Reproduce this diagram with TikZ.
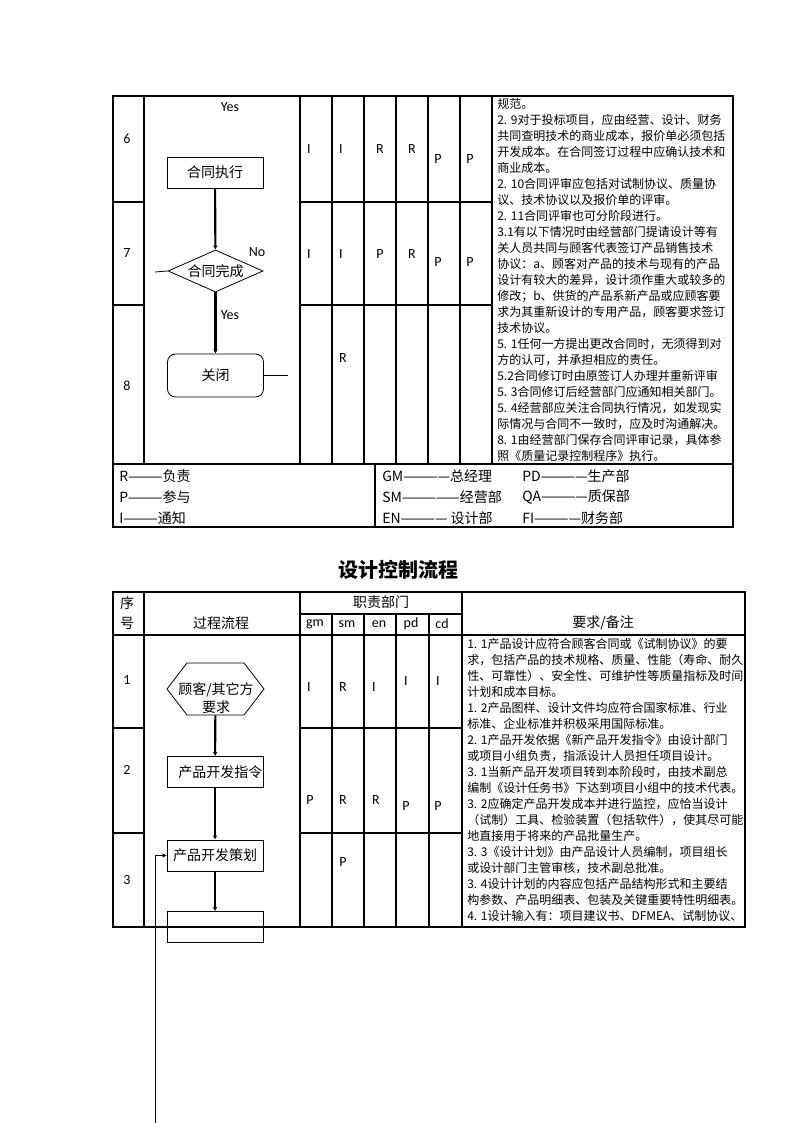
\documentclass[tikz,border=0pt]{standalone}
\usepackage{fontspec}
\setmainfont{Carlito}
\newfontfamily\cjk{Noto Sans CJK SC}
\usetikzlibrary{shapes.geometric,shapes.symbols,arrows.meta}
\tikzstyle{rule} = [line width=0.8pt]
\tikzstyle{flowbox} = [draw=black, line width=0.6pt, rectangle, minimum width=72pt,
    minimum height=23.25pt, inner sep=0pt, font=\cjk\fontsize{10.5pt}{12pt}\selectfont]
\tikzstyle{flowline} = [line width=1.6pt, -{Latex[length=3pt,width=3.5pt]}]
\tikzstyle{duty} = [font=\fontsize{10.5pt}{11pt}\selectfont, inner sep=0pt]
\tikzstyle{head} = [font=\cjk\fontsize{10.5pt}{12pt}\selectfont, inner sep=0pt]
\tikzstyle{notes} = [font=\cjk\fontsize{9pt}{12pt}\selectfont, align=left, anchor=north west, inner sep=0pt]
\tikzstyle{legend} = [font=\cjk\fontsize{10.5pt}{12pt}\selectfont, anchor=west, inner sep=0pt]

\begin{document}
\begin{tikzpicture}[x=0.75pt, y=-0.75pt]
\useasboundingbox (0,0) rectangle (794,1123);

% contract table (upper part)
\draw[rule] (113,96) rectangle (733,527);
\draw[rule] (113,464) -- (733,464);
\draw[rule] (144,96) -- (144,464);
\foreach \x in {300,332,364,396,428,460,492}
    \draw[rule] (\x,96) -- (\x,464);
\draw[rule] (375,464) -- (375,527);
\draw[rule] (113,202) -- (144,202) (300,202) -- (492,202);
\draw[rule] (113,305) -- (144,305) (300,305) -- (492,305);

\node[duty] (no6) at (127,139) {6};
\node[duty] (no7) at (127,253) {7};
\node[duty] (no8) at (127,386) {8};

\node[duty] (yes1) at (230,107) {Yes};
\node[flowbox] (exec) at (215,172.5) {合同执行};
\node[draw, diamond, line width=0.6pt, aspect=2.26, minimum width=71.25pt, minimum height=31.5pt,
    inner sep=0pt, font=\cjk\fontsize{10.5pt}{12pt}\selectfont] (done) at (215.5,271) {合同完成};
\node[flowbox, rounded corners=6pt, minimum height=32.25pt] (close) at (215.5,375.5) {关闭\hspace{12pt}};
\node[duty] (no1) at (257,252) {No};
\node[duty] (yes2) at (230,315) {Yes};
\draw[flowline] (exec) -- (done);
\draw[flowline] (done) -- (close);
\coordinate (doneout) at (155,272);
\coordinate (closeout) at (288,375.5);
\draw[line width=0.6pt] (done.west) -- (doneout);
\draw[line width=0.6pt] (close.east) -- (closeout);

\node[duty] (a6) at (309,149) {I};
\node[duty] (b6) at (341,149) {I};
\node[duty] (c6) at (380,149) {R};
\node[duty] (d6) at (412,149) {R};
\node[duty] (e6) at (438,159) {P};
\node[duty] (f6) at (470,159) {P};
\node[duty] (a7) at (309,254) {I};
\node[duty] (b7) at (341,254) {I};
\node[duty] (c7) at (380,254) {P};
\node[duty] (d7) at (412,254) {R};
\node[duty] (e7) at (438,262) {P};
\node[duty] (f7) at (470,262) {P};
\node[duty] (b8) at (343,358) {R};

\node[notes] (notes1) at (497,98) {规范。\\
2. 9对于投标项目，应由经营、设计、财务\\
共同查明技术的商业成本，报价单必须包括\\
开发成本。在合同签订过程中应确认技术和\\
商业成本。\\
2. 10合同评审应包括对试制协议、质量协\\
议、技术协议以及报价单的评审。\\
2. 11合同评审也可分阶段进行。\\
3.1有以下情况时由经营部门提请设计等有\\
关人员共同与顾客代表签订产品销售技术\\
协议：a、顾客对产品的技术与现有的产品\\
设计有较大的差异，设计须作重大或较多的\\
修改；b、供货的产品系新产品或应顾客要\\
求为其重新设计的专用产品，顾客要求签订\\
技术协议。\\
5. 1任何一方提出更改合同时，无须得到对\\
方的认可，并承担相应的责任。\\
5.2合同修订时由原签订人办理并重新评审\\
5. 3合同修订后经营部门应通知相关部门。\\
5. 4经营部应关注合同执行情况，如发现实\\
际情况与合同不一致时，应及时沟通解决。\\
8. 1由经营部门保存合同评审记录，具体参\\
照《质量记录控制程序》执行。};

% legend
\node[legend] (lr) at (119,476) {R———负责};
\node[legend] (lp) at (119,497) {P———参与};
\node[legend] (li) at (119,518) {I———通知};
\node[legend] (lgm) at (382,476) {GM————总经理};
\node[legend] (lsm) at (382,497) {SM—————经营部};
\node[legend] (len) at (382,518) {EN———— 设计部};
\node[legend] (lpd) at (522,476) {PD————生产部};
\node[legend] (lqa) at (522,497) {QA————质保部};
\node[legend] (lfi) at (522,518) {FI————财务部};

% design control table (lower part)
\node[font=\cjk\bfseries\fontsize{15pt}{16pt}\selectfont] (title) at (398,570) {设计控制流程};

\draw[rule] (113,592) rectangle (745,927);
\draw[rule] (113,635) -- (745,635);
\draw[rule] (300,614) -- (462,614);
\foreach \x in {144,300,462}
    \draw[rule] (\x,592) -- (\x,927);
\foreach \x in {332,364,396,429}
    \draw[rule] (\x,614) -- (\x,927);
\draw[rule] (113,728) -- (144,728) (300,728) -- (462,728);
\draw[rule] (113,833) -- (144,833) (300,833) -- (462,833);

\node[head] (hseq1) at (127,603) {序};
\node[head] (hseq2) at (127,623) {号};
\node[head] (hflow) at (221,623) {过程流程};
\node[head] (hdept) at (381,602) {职责部门};
\node[duty] (hgm) at (315,624) {gm};
\node[duty] (hsm) at (347,624) {sm};
\node[duty] (hen) at (379,624) {en};
\node[duty] (hpd) at (411,624) {pd};
\node[duty] (hcd) at (442,624) {cd};
\node[head] (hnote) at (603,623) {要求/备注};

\node[duty] (no1b) at (127,680) {1};
\node[duty] (no2b) at (127,770) {2};
\node[duty] (no3b) at (127,880) {3};

\node[draw, signal, signal to=west and east, signal pointer angle=105, line width=0.6pt,
    minimum width=72.75pt, minimum height=39pt, inner sep=0pt] (req) at (215.5,689) {};
\node[align=center, inner sep=0pt, font=\cjk\fontsize{10.5pt}{13.5pt}\selectfont] (reqtext)
    at (216,698) {顾客/其它方\\要求};
\node[flowbox] (order) at (215,772) {\hspace{8pt}产品开发指令};
\node[flowbox] (plan) at (215,855.5) {产品开发策划\hspace{8pt}};
\node[flowbox] (next) at (215,927) {};
\draw[flowline] (req) -- (order);
\draw[flowline] (order) -- (plan);
\draw[flowline] (plan) -- (next);
\coordinate (loopin) at (155,1123);
\draw[line width=0.7pt, -{Latex[length=3pt,width=3.5pt]}] (loopin) |- (plan.west);

\node[duty] (a1) at (309,687) {I};
\node[duty] (b1) at (343,687) {R};
\node[duty] (c1) at (374,687) {I};
\node[duty] (d1) at (406,681) {I};
\node[duty] (e1) at (438,681) {I};
\node[duty] (a2) at (310,800) {P};
\node[duty] (b2) at (343,800) {R};
\node[duty] (c2) at (376,800) {R};
\node[duty] (d2) at (406,806) {P};
\node[duty] (e2) at (438,806) {P};
\node[duty] (b3) at (343,862) {P};

\node[notes] (notes2) at (467,638) {1. 1产品设计应符合顾客合同或《试制协议》的要\\
求，包括产品的技术规格、质量、性能（寿命、耐久\\
性、可靠性）、安全性、可维护性等质量指标及时间\\
计划和成本目标。\\
1. 2产品图样、设计文件均应符合国家标准、行业\\
标准、企业标准并积极采用国际标准。\\
2. 1产品开发依据《新产品开发指令》由设计部门\\
或项目小组负责，指派设计人员担任项目设计。\\
3. 1当新产品开发项目转到本阶段时，由技术副总\\
编制《设计任务书》下达到项目小组中的技术代表。\\
3. 2应确定产品开发成本并进行监控，应恰当设计\\
（试制）工具、检验装置（包括软件），使其尽可能\\
地直接用于将来的产品批量生产。\\
3. 3《设计计划》由产品设计人员编制，项目组长\\
或设计部门主管审核，技术副总批准。\\
3. 4设计计划的内容应包括产品结构形式和主要结\\
构参数、产品明细表、包装及关键重要特性明细表。\\
4. 1设计输入有：项目建议书、DFMEA、试制协议、};
\end{tikzpicture}
\end{document}
